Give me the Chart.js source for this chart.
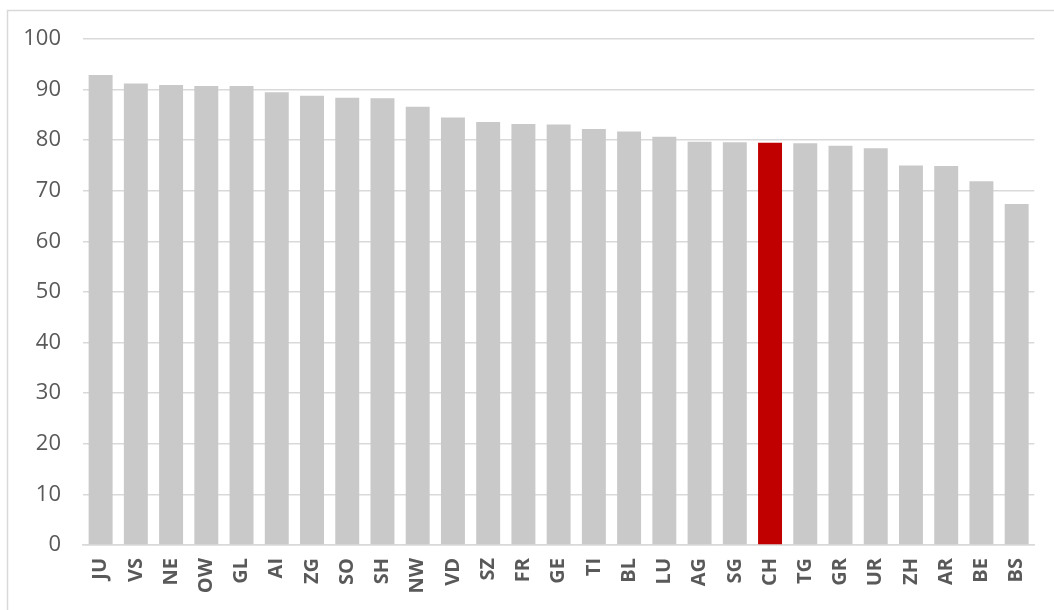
<!DOCTYPE html>
<html>
<head>
<meta charset="utf-8">
<script src="https://cdn.jsdelivr.net/npm/chart.js@4"></script>
<style>
  html, body { margin: 0; padding: 0; background: #ffffff; }
  #wrap { position: relative; width: 1054px; height: 610px; }
</style>
</head>
<body>
<div id="wrap"><canvas id="c" width="1054" height="610"></canvas></div>
<script>
// Cantons, ordered by value
const cantons = ['JU','VS','NE','OW','GL','AI','ZG','SO','SH','NW','VD','SZ','FR','GE','TI','BL','LU','AG','SG','CH','TG','GR','UR','ZH','AR','BE','BS'];
const values = [92.9, 91.2, 90.9, 90.7, 90.7, 89.5, 88.8, 88.4, 88.3, 86.6, 84.5, 83.6, 83.2, 83.1, 82.2, 81.7, 80.7, 79.7, 79.6, 79.5, 79.4, 78.9, 78.4, 75.0, 74.9, 71.9, 67.4];
const yTicks = [0, 10, 20, 30, 40, 50, 60, 70, 80, 90, 100];
const highlight = 'CH';

const barColors = cantons.map(c => c === highlight ? '#c00000' : '#c9c9c9');

// Thin frame around the chart (left and top edges)
const framePlugin = {
  id: 'frame',
  beforeDraw(chart) {
    const ctx = chart.ctx;
    ctx.save();
    ctx.strokeStyle = '#d9d9d9';
    ctx.lineWidth = 1.5;
    ctx.beginPath();
    ctx.moveTo(7.5, 620);
    ctx.lineTo(7.5, 10.5);
    ctx.lineTo(1060, 10.5);
    ctx.stroke();
    ctx.restore();
  }
};

new Chart(document.getElementById('c'), {
  type: 'bar',
  data: {
    labels: cantons,
    datasets: [{
      data: values,
      backgroundColor: barColors,
      borderWidth: 0,
      barPercentage: 0.68,
      categoryPercentage: 1.0
    }]
  },
  options: {
    responsive: false,
    animation: false,
    devicePixelRatio: 1,
    layout: { padding: { left: 0, right: 18, top: 39, bottom: 0 } },
    plugins: { legend: { display: false }, tooltip: { enabled: false } },
    scales: {
      x: {
        grid: { display: false, drawTicks: false },
        border: { display: true, color: '#d9d9d9', width: 1.5 },
        ticks: {
          color: '#595959',
          font: { family: 'Open Sans', size: 20, weight: 'bold' },
          minRotation: 90,
          maxRotation: 90,
          autoSkip: false,
          padding: 13
        },
        afterFit(axis) { axis.height = 65; }
      },
      y: {
        min: 0,
        max: 100,
        afterBuildTicks(axis) { axis.ticks = yTicks.map(v => ({ value: v })); },
        grid: { color: '#d9d9d9', lineWidth: 1.5, drawTicks: false },
        border: { display: false },
        ticks: {
          color: '#595959',
          font: { family: 'Open Sans', size: 22 },
          padding: 22
        },
        afterFit(axis) { axis.width = 83; }
      }
    }
  },
  plugins: [framePlugin]
});
</script>
</body>
</html>
